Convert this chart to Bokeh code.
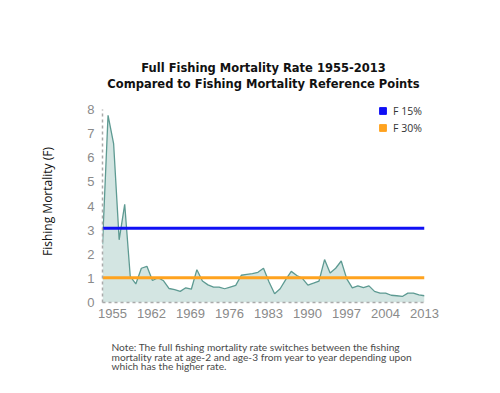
import numpy as np
from bokeh.plotting import figure
from bokeh.models import (ColumnDataSource, FixedTicker, Legend, LegendItem, Title)
from bokeh.embed import file_html
from bokeh.resources import INLINE

# ---- data ----
years = list(range(1955, 2014))
fishing_mortality = [
    2.41, 7.76, 6.59, 2.60, 4.07, 1.08, 0.77, 1.42, 1.50, 0.91,
    1.03, 0.90, 0.58, 0.53, 0.46, 0.61, 0.55, 1.36, 0.89, 0.73,
    0.64, 0.64, 0.57, 0.64, 0.71, 1.13, 1.17, 1.20, 1.25, 1.42,
    0.85, 0.36, 0.57, 0.95, 1.29, 1.12, 1.00, 0.72, 0.80, 0.89,
    1.78, 1.22, 1.42, 1.72, 0.98, 0.61, 0.69, 0.62, 0.69, 0.46,
    0.39, 0.39, 0.30, 0.28, 0.25, 0.39, 0.39, 0.32, 0.28,
]
ref_names = ["F 15%", "F 30%"]
ref_values = [3.08, 1.03]
ref_colors = ["#1010f5", "#ffa31f"]
x_tick_labels = ["1955", "1962", "1969", "1976", "1983", "1990", "1997", "2004", "2013"]
y_ticks = [0, 1, 2, 3, 4, 5, 6, 7, 8]
title_lines = ["Full Fishing Mortality Rate 1955-2013",
               "Compared to Fishing Mortality Reference Points"]
note_text = ("Note: The full fishing mortality rate switches between the fishing\n"
             "mortality rate at age-2 and age-3 from year to year depending upon\n"
             "which has the higher rate.")

FW = 322          # frame width
FH_DATA = 193     # pixel height of the 0..8 span
FH = 202          # frame a bit taller so the legend is not clipped
y_max = y_ticks[-1]
src = ColumnDataSource(dict(year=years, f=fishing_mortality,
                            zero=[0] * len(years)))

p = figure(frame_width=FW, frame_height=FH,
           x_range=(years[0], years[-1]), y_range=(0, y_max * FH / FH_DATA),
           output_backend="svg", toolbar_location=None,
           min_border_left=102, min_border_right=68,
           min_border_top=100, min_border_bottom=83,
           background_fill_color="white", border_fill_color="white")
p.outline_line_color = None
p.grid.visible = False

# area + line
p.varea(x="year", y1="zero", y2="f", source=src, fill_color="#d3e5e2", fill_alpha=1.0)
p.line(x="year", y="f", source=src, line_color="#5d9a92", line_width=1.3)

# reference lines + legend keys
items = []
for name, val, col in zip(ref_names, ref_values, ref_colors):
    p.line(x=[years[0], years[-1]], y=[val, val], line_color=col, line_width=3)
    ksrc = ColumnDataSource(dict(x=[years[0]], y=[val]))
    r = p.scatter(x="x", y="y", source=ksrc, marker="square",
                  fill_color=col, line_color=col, visible=False)
    items.append(LegendItem(label=name, renderers=[r]))

legend = Legend(items=items, location=(272, FH - 36),
                background_fill_alpha=0, border_line_color=None,
                inactive_fill_alpha=0,
                label_text_font="Open Sans", label_text_font_size="10.5px",
                label_text_color="#333333", glyph_width=17, glyph_height=17,
                label_height=17, spacing=0, padding=0, margin=0, label_standoff=2,
                click_policy="none")
p.add_layout(legend)

# x axis: evenly spaced labels
n_lab = len(x_tick_labels)
first_pos = years[0] + 10 * (years[-1] - years[0]) / float(FW)
tick_pos = list(np.linspace(first_pos, years[-1], n_lab))
p.xaxis.ticker = FixedTicker(ticks=tick_pos)
p.xaxis.major_label_overrides = {t: l for t, l in zip(tick_pos, x_tick_labels)}
p.yaxis.ticker = FixedTicker(ticks=y_ticks)
p.yaxis.bounds = (0, y_max)

for ax in (p.xaxis, p.yaxis):
    ax.axis_line_color = "#aaaaaa"
    ax.axis_line_width = 1.5
    ax.axis_line_dash = "3 3"
    ax.major_tick_line_color = None
    ax.minor_tick_line_color = None
    ax.major_label_text_font = "Liberation Sans"
    ax.major_label_text_font_size = "13px"
    ax.major_label_text_color = "#8a8a8a"
p.xaxis.major_label_standoff = 0
p.yaxis.major_label_standoff = 2

p.yaxis.axis_label = "Fishing Mortality (F)"
p.yaxis.axis_label_text_font = "Open Sans"
p.yaxis.axis_label_text_font_style = "normal"
p.yaxis.axis_label_text_font_size = "12px"
p.yaxis.axis_label_text_color = "#111111"
p.yaxis.axis_label_standoff = 28

# title: spacer, then line 2 (nearest the frame), then line 1
p.add_layout(Title(text=" ", text_font_size="1px", standoff=6.5), "above")
for line in reversed(title_lines):
    p.add_layout(Title(text=line, align="center",
                       text_font="DejaVu Sans", text_font_style="bold",
                       text_font_size="11.5px", text_color="#111111", standoff=0), "above")

# note
p.add_layout(Title(text=note_text, align="left", offset=9, text_font="Lato",
                   text_font_style="normal", text_font_size="10.2px",
                   text_color="#4a4a4a", standoff=36, text_line_height=0.83), "below")

open("out.html", "w").write(file_html(p, INLINE))
